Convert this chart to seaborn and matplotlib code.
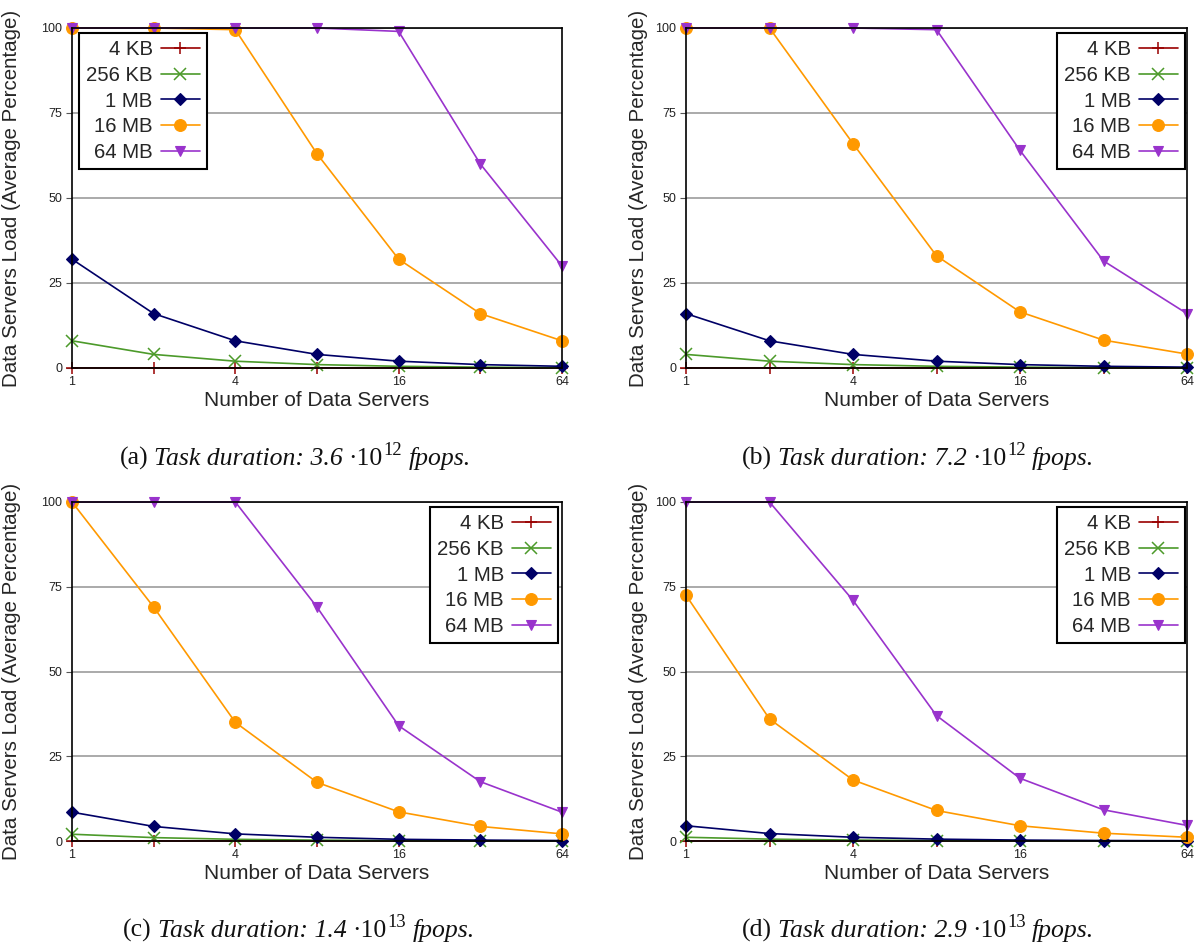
import matplotlib
matplotlib.use("Agg")
import matplotlib.pyplot as plt
from matplotlib.transforms import IdentityTransform
import seaborn as sns

# ---------------- data ----------------
servers = [1, 2, 4, 8, 16, 32, 64]
x_ticks = [1, 4, 16, 64]
x_tick_labels = ["1", "4", "16", "64"]
y_ticks = [0, 25, 50, 75, 100]
y_tick_labels = ["0", "25", "50", "75", "100"]
size_labels = ["4 KB", "256 KB", "1 MB", "16 MB", "64 MB"]

# (a) Task duration 3.6e12
a_4kb = [0, 0, 0, 0, 0, 0, 0]
a_256kb = [8, 4, 2, 1, 0.5, 0.25, 0.12]
a_1mb = [32, 16, 8, 4, 2, 1, 0.5]
a_16mb = [100, 100, 99.5, 63, 32, 16, 8]
a_64mb = [100, 100, 100, 100, 99, 60, 30]

# (b) Task duration 7.2e12
b_4kb = [0, 0, 0, 0, 0, 0, 0]
b_256kb = [4, 2, 1, 0.5, 0.25, 0.12, 0.06]
b_1mb = [16, 8, 4, 2, 1, 0.5, 0.25]
b_16mb = [100, 100, 66, 33, 16.5, 8.2, 4.1]
b_64mb = [100, 100, 100, 99.5, 64, 31.5, 16]

# (c) Task duration 1.4e13
c_4kb = [0, 0, 0, 0, 0, 0, 0]
c_256kb = [2, 1, 0.5, 0.25, 0.12, 0.06, 0.03]
c_1mb = [8.5, 4.3, 2.1, 1.1, 0.5, 0.27, 0.13]
c_16mb = [100, 69, 35, 17.3, 8.6, 4.3, 2.1]
c_64mb = [100, 100, 100, 69, 34, 17.5, 8.5]

# (d) Task duration 2.9e13
d_4kb = [0, 0, 0, 0, 0, 0, 0]
d_256kb = [1.1, 0.55, 0.27, 0.14, 0.07, 0.03, 0.02]
d_1mb = [4.5, 2.2, 1.1, 0.55, 0.27, 0.14, 0.07]
d_16mb = [72.5, 36, 18, 9, 4.5, 2.3, 1.1]
d_64mb = [100, 100, 71, 37, 18.5, 9.2, 4.6]

panel_letters = ["a", "b", "c", "d"]
durations = ["3.6", "7.2", "1.4", "2.9"]
exponents = ["12", "12", "13", "13"]
panel_series = [
    [a_4kb, a_256kb, a_1mb, a_16mb, a_64mb],
    [b_4kb, b_256kb, b_1mb, b_16mb, b_64mb],
    [c_4kb, c_256kb, c_1mb, c_16mb, c_64mb],
    [d_4kb, d_256kb, d_1mb, d_16mb, d_64mb],
]

# ---------------- style ----------------
sns.set_theme(style="white")
plt.rcParams["font.family"] = ["Liberation Sans", "DejaVu Sans"]
SERIF = ["Liberation Serif", "DejaVu Serif"]

colors = ["#990000", "#4C9A2A", "#000066", "#FF9900", "#9933CC"]
markers = ["+", "x", "D", "o", "v"]
msizes = [8, 8, 6, 8.5, 7.5]
mews = [1.1, 1.1, 0.8, 0.8, 0.8]

W, H = 1203, 949
# axes boxes in pixels: left, top, right, bottom
boxes = [(72, 28, 562, 368), (686, 28, 1187, 368),
         (72, 502, 562, 841), (686, 502, 1187, 841)]
ylabel_x = [21, 648, 21, 648]
# legend anchor (pixels) and loc
legend_anchor = [(79, 33), (1185, 33), (558, 507), (1185, 507)]
legend_locs = ["upper left", "upper right", "upper right", "upper right"]
caption_pos = [(295, 465), (918, 465), (299, 937), (918, 937)]
CAP_FS = 18.5

fig = plt.figure(figsize=(W / 100, H / 100), dpi=100)

for p in range(4):
    l, t, r, b = boxes[p]
    ax = fig.add_axes([l / W, 1 - b / H, (r - l) / W, (b - t) / H])
    for i, vals in enumerate(panel_series[p]):
        sns.lineplot(x=servers, y=vals, ax=ax, color=colors[i], marker=markers[i],
                     markersize=msizes[i], markeredgecolor=colors[i],
                     markerfacecolor=colors[i], markeredgewidth=mews[i],
                     linewidth=1.2, label=size_labels[i])
    for ln in ax.lines:
        ln.set_clip_on(False)
    ax.set_xscale("log", base=2)
    ax.set_xlim(1, 64)
    ax.set_ylim(0, 100)
    ax.set_xticks(x_ticks)
    ax.set_xticklabels(x_tick_labels)
    ax.minorticks_off()
    ax.set_yticks(y_ticks)
    ax.set_yticklabels(y_tick_labels)
    ax.yaxis.grid(True, color="#aaaaaa", linewidth=1.4)
    ax.xaxis.grid(False)
    ax.set_axisbelow(True)
    for s in ax.spines.values():
        s.set_color("black")
        s.set_linewidth(1.2)
    ax.tick_params(axis="y", left=True, length=4, width=0.8, color="#555555",
                   labelsize=9, pad=3, labelcolor="#222222")
    ax.tick_params(axis="x", bottom=False, length=0, labelsize=9, pad=6,
                   labelcolor="#222222")
    ax.set_xlabel("Number of Data Servers", fontsize=15, labelpad=2)
    ax.set_ylabel("Data Servers Load (Average Percentage)", fontsize=14.8)
    ax.yaxis.set_label_coords((ylabel_x[p] - l) / (r - l), 0.5)
    handles, labels = ax.get_legend_handles_labels()
    lx, ly = legend_anchor[p]
    leg = ax.legend(handles, labels, loc=legend_locs[p],
                    bbox_to_anchor=(lx / W, 1 - ly / H), bbox_transform=fig.transFigure,
                    markerfirst=False, frameon=True, fancybox=False,
                    edgecolor="black", framealpha=1, fontsize=14.7,
                    handlelength=1.9, handletextpad=0.4, labelspacing=0.33,
                    borderpad=0.35, borderaxespad=0, numpoints=1)
    leg.get_frame().set_linewidth(1.5)

# ---------------- captions ----------------
renderer = fig.canvas.get_renderer()
px_per_pt = 100 / 72


def caption(cx, base_y, pieces):
    objs = []
    x = 0.0
    for txt, style, size, dy, gap in pieces:
        x += gap * CAP_FS * px_per_pt
        t = fig.text(0, 0, txt, fontsize=size, style=style, family=SERIF,
                     ha="left", va="baseline", color="#111111",
                     transform=IdentityTransform())
        w = t.get_window_extent(renderer).width
        objs.append((t, x, dy))
        x += w
    x0 = cx - x / 2
    for t, xo, dy in objs:
        t.set_position((x0 + xo, H - base_y + dy * CAP_FS * px_per_pt))


for p in range(4):
    cx, cy = caption_pos[p]
    caption(cx, cy, [
        (f"({panel_letters[p]})", "normal", CAP_FS, 0, 0),
        (f"Task duration: {durations[p]}", "italic", CAP_FS, 0, 0.25),
        ("·10", "normal", CAP_FS, 0, 0.2),
        (exponents[p], "normal", CAP_FS * 0.72, 0.4, 0.03),
        ("fpops.", "italic", CAP_FS, 0, 0.25),
    ])

fig.savefig("out.png", dpi=100)
